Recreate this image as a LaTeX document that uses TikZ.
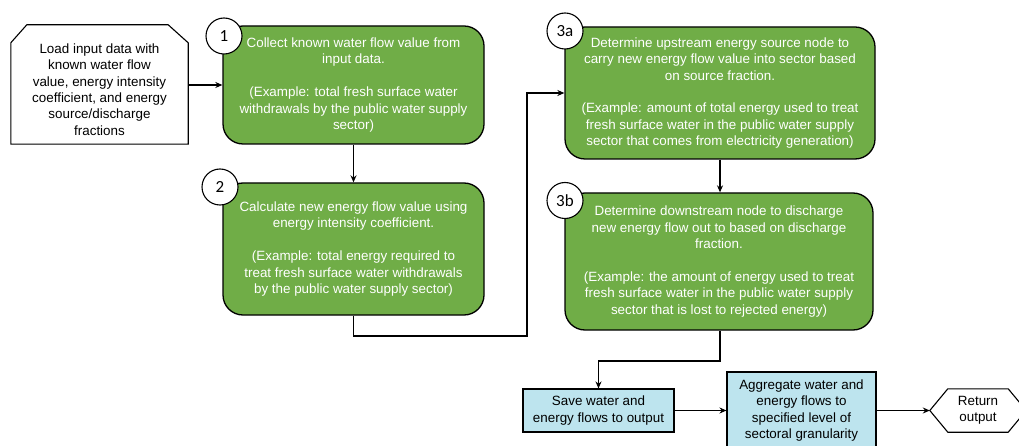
\documentclass[tikz,border=0pt]{standalone}
\usepackage{fontspec}
\setmainfont{Liberation Sans}
\newfontfamily\numfont{Carlito}
\usetikzlibrary{arrows.meta,calc}
\definecolor{stepgreen}{HTML}{70AD47}
\definecolor{saveblue}{HTML}{BDE4EE}
\tikzset{
  greenbox/.style={draw=black, line width=1.3pt, fill=stepgreen, rounded corners=20pt, text=white, align=center, inner sep=0pt, font=\fontsize{13.4}{16.4}\selectfont},
  bluebox/.style={draw=black, line width=1.1pt, fill=saveblue, align=center, inner sep=0pt, font=\fontsize{13.4}{16.4}\selectfont},
  numcircle/.style={draw=black, line width=1.1pt, fill=white, circle, minimum size=36pt, inner sep=0pt, font=\numfont\fontsize{17}{17}\selectfont},
  plaintext/.style={align=center, inner sep=0pt, font=\fontsize{13.4}{16.4}\selectfont},
  conn/.style={line width=1.4pt, -{Stealth[length=7pt,width=6pt]}},
  outline/.style={draw=black, line width=1.1pt, fill=white, line join=miter}
}
\begin{document}
\begin{tikzpicture}[x=1pt,y=-1pt]
\useasboundingbox (0,0) rectangle (1019,446);
% input
\node (input) [minimum width=177pt, minimum height=119pt, inner sep=0pt] at (99.5,84.5) {};
\draw[outline] (input.south west) -- ([yshift=-18pt]input.north west) -- ([xshift=16pt]input.north west) -- ([xshift=-20pt]input.north east) -- ([yshift=-18pt]input.north east) -- (input.south east) -- cycle;
\node (inputtext) [plaintext] at (99.5,89.5) {Load input data with\\known water flow\\value, energy intensity\\coefficient, and energy\\source/discharge\\fractions};
% green boxes
\node (box1) [greenbox, minimum width=261pt, minimum height=118pt] at (353.5,85) {Collect known water flow value from\\input data.\\[16.4pt](Example: total fresh surface water\\withdrawals by the public water supply\\sector)};
\node (box2) [greenbox, minimum width=261pt, minimum height=132pt] at (353.5,249) {Calculate new energy flow value using\\energy intensity coefficient.\\[16.4pt](Example: total energy required to\\treat fresh surface water withdrawals\\by the public water supply sector)};
\node (box3a) [greenbox, minimum width=310pt, minimum height=132pt] at (720,93) {Determine upstream energy source node to\\carry new energy flow value into sector based\\on source fraction.\\[16.4pt](Example: amount of total energy used to treat\\fresh surface water in the public water supply\\sector that comes from electricity generation)};
\node (box3b) [greenbox, minimum width=308pt, minimum height=137pt] at (719,261.5) {Determine downstream node to discharge\\new energy flow out to based on discharge\\fraction.\\[16.4pt](Example: the amount of energy used to treat\\fresh surface water in the public water supply\\sector that is lost to rejected energy)};
% circles
\node (c1) [numcircle] at (224,36) {1};
\node (c2) [numcircle] at (220,187) {2};
\node (c3a) [numcircle] at (565,31) {3a};
\node (c3b) [numcircle] at (565,200.5) {3b};
% blue boxes
\node (save) [bluebox, minimum width=151pt, minimum height=43pt] at (598.5,410.5) {Save water and\\energy flows to output};
\node (agg) [bluebox, minimum width=149pt, minimum height=77pt] at (801.5,410.5) {Aggregate water and\\energy flows to\\specified level of\\sectoral granularity};
% return
\node (ret) [minimum width=96pt, minimum height=43pt, inner sep=0pt] at (978,410.5) {};
\draw[outline] (ret.west) -- ([xshift=18pt]ret.north west) -- ([xshift=-18pt]ret.north east) -- (ret.east) -- ([xshift=-18pt]ret.south east) -- ([xshift=18pt]ret.south west) -- cycle;
\node (rettext) [plaintext] at (978,410.5) {Return\\output};
% connectors
\coordinate (k1) at (527,336);
\coordinate (k2) at (720,361);
\draw[conn] (input.east |- box1.west) -- (box1.west);
\draw[conn] (box1.south) -- (box2.north);
\draw[conn] (box2.south) |- (k1) |- (box3a.west);
\draw[conn] (box3a.south) -- (box3a.south |- box3b.north);
\draw[conn] (box3a.south |- box3b.south) -- (k2) -| (save.north);
\draw[conn] (save.east) -- (save.east -| agg.west);
\draw[conn] (agg.east) -- (ret.west);
\end{tikzpicture}
\end{document}
